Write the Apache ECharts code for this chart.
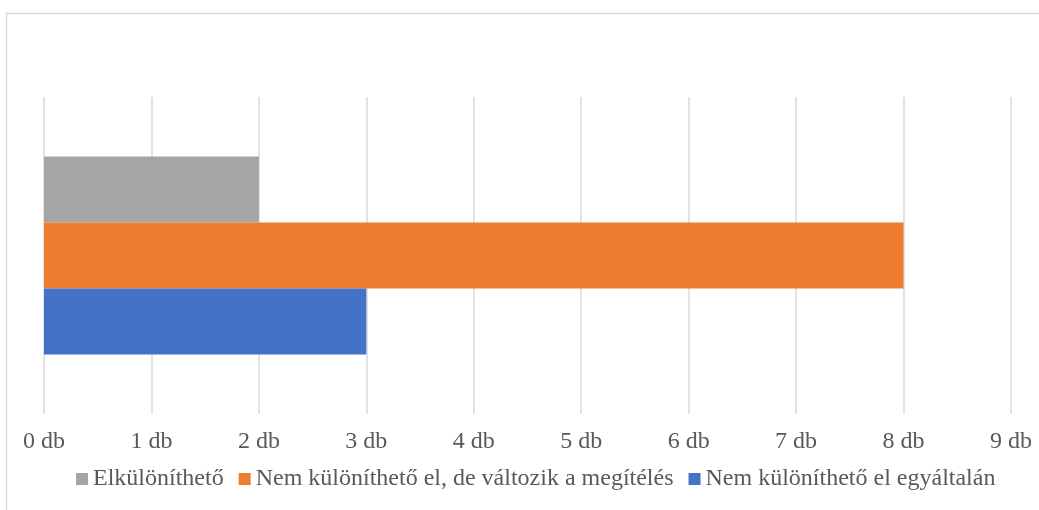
<!DOCTYPE html>
<html><head><meta charset="utf-8">
<script src="https://cdn.jsdelivr.net/npm/echarts@6/dist/echarts.min.js"></script>
<style>html,body{margin:0;padding:0;background:#fff}#c{width:1039px;height:510px}</style>
</head><body><div id="c"></div>
<script>
const categories = [''];
const seriesNames = ['Elkülöníthető', 'Nem különíthető el, de változik a megítélés', 'Nem különíthető el egyáltalán'];
const valuesElkulonitheto = [2];
const valuesValtozik = [8];
const valuesEgyaltalan = [3];
const seriesColors = ['#A5A5A5', '#ED7D31', '#4472C4'];
const tickUnit = ' db';

const font = 'Liberation Serif, Times New Roman, serif';
const chart = echarts.init(document.getElementById('c'), null, {renderer: 'canvas'});
const dataSets = [valuesElkulonitheto, valuesValtozik, valuesEgyaltalan];
chart.setOption({
  animation: false,
  graphic: [{type: 'rect', shape: {x: 6.5, y: 13.5, width: 1100, height: 600}, style: {fill: 'none', stroke: '#D9D9D9', lineWidth: 1.5}, silent: true}],
  grid: {left: 44, right: 28, top: 97, bottom: 96},
  legend: {
    bottom: 14, left: 71, itemWidth: 12, itemHeight: 12, itemGap: 15,
    icon: 'rect',
    textStyle: {fontFamily: font, fontSize: 24, color: '#595959'},
    data: seriesNames
  },
  xAxis: {
    type: 'value', min: 0, max: 9, interval: 1,
    axisLine: {show: false}, axisTick: {show: false},
    axisLabel: {fontFamily: font, fontSize: 24, color: '#595959', margin: 16, formatter: v => v + tickUnit},
    splitLine: {lineStyle: {color: '#D9D9D9', width: 1.5}}
  },
  yAxis: {
    type: 'category', data: categories, inverse: true,
    axisLine: {show: false}, axisTick: {show: false}, axisLabel: {show: false}
  },
  series: seriesNames.map((n, i) => ({
    name: n, type: 'bar', data: dataSets[i],
    itemStyle: {color: seriesColors[i]},
    barGap: '0%', barCategoryGap: '37.5%'
  }))
});
</script></body></html>
